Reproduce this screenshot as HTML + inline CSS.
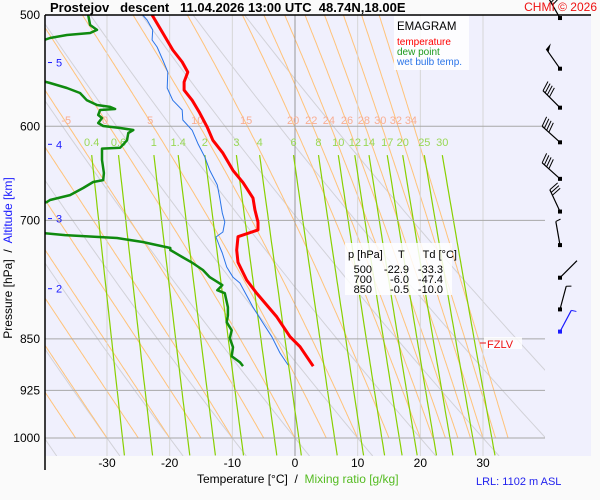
<!DOCTYPE html>
<html><head><meta charset="utf-8"><style>
html,body{margin:0;padding:0;background:#fafafa;}
svg{display:block;font-family:"Liberation Sans",sans-serif;}
text{white-space:pre;}
</style></head><body>
<svg id="chart" width="600" height="500" viewBox="0 0 600 500">
<defs><clipPath id="plotClip"><rect x="45" y="15" width="500" height="441"/></clipPath></defs>
<rect x="0" y="0" width="600" height="500" fill="#fafafa"/>
<rect x="45" y="15" width="546" height="441" fill="#f0f0fd"/>
<g id="gridLayer" clip-path="url(#plotClip)"></g>
<g id="labelLayer"></g>
<g id="seriesLayer" clip-path="url(#plotClip)"></g>
<g id="axisLayer"></g>
<g id="barbLayer"></g>

<line x1="45" y1="15" x2="591" y2="15" stroke="#000" stroke-width="1.5"/>
<line x1="45" y1="15" x2="45" y2="470" stroke="#000" stroke-width="1.5"/>
<text x="50" y="12" font-size="13" font-weight="bold">Prostejov   descent   11.04.2026 13:00 UTC  48.74N,18.00E</text>
<text x="597" y="11" font-size="12" fill="#ee1111" text-anchor="end">CHMI © 2026</text>

<g>
<rect x="394" y="16" width="75" height="54" fill="#ffffff" opacity="0.85"/>
<text x="397" y="30" font-size="11.5">EMAGRAM</text>
<text x="397" y="45" font-size="10" fill="#ff0000">temperature</text>
<text x="397" y="55" font-size="10" fill="#1e9a1e">dew point</text>
<text x="397" y="65" font-size="10" fill="#2a74e8">wet bulb temp.</text>
</g>

<g>
<rect x="345" y="243" width="107" height="52" fill="#ffffff" opacity="0.85"/>
<text x="348" y="258" font-size="11">p [hPa]     T      Td [°C]</text>
<g id="tableRows"></g>
</g>

<g>
<rect x="484" y="337" width="38" height="12" fill="#ffffff" opacity="0.8"/>
<line x1="480" y1="343" x2="486" y2="343" stroke="#ee1111" stroke-width="1"/>
<text x="487" y="348" font-size="11" fill="#ee1111">FZLV</text>
</g>

<text transform="translate(12,258) rotate(-90)" font-size="12" text-anchor="middle"><tspan fill="#000">Pressure [hPa]  /  </tspan><tspan fill="#1a1aff">Altitude [km]</tspan></text>
<text x="197" y="483" font-size="12">Temperature [°C]  /  <tspan fill="#55bb22">Mixing ratio [g/kg]</tspan></text>
<text x="476" y="485" font-size="11" fill="#2222ee">LRL: 1102 m ASL</text>
</svg>
<script>
// ---- data ----
const tempP = [500,515,529.5,540,549,558,565.5,575,587,601,614,627,645,658,675,688,702,711,719,735,750,772,789,820,847,861,889];
const tempT = [-22.8,-21.1,-19.5,-18.0,-17.1,-17.7,-17.7,-16.4,-15.2,-14.0,-13.1,-11.5,-9.9,-8.3,-6.7,-6.4,-5.9,-5.9,-9.1,-9.3,-9.1,-7.7,-6.1,-2.9,-0.8,0.8,2.9];
const dewP = [500,508.3,512.4,515,516.7,519.2,530,550,558.9,563.5,568.2,575,579.5,581.3,583.3,584.2,589,591.9,596.8,599.7,601.7,603.7,606.7,614,621.4,622.4,634.1,647.8,655.3,657.4,663.9,671.6,677.1,679.4,690,710,717.1,720.6,725.3,732.5,734.9,743.4,750.8,759.4,768.3,778.4,784.9,788.8,807.1,817.8,827.2,838.2,849.2,861.8,874.6,883.2,888.9];
const dewT = [-33.0,-32.7,-31.6,-32.7,-36.4,-39.1,-45,-45,-39.1,-36.4,-34.3,-33.2,-31.6,-29.5,-28.7,-31.1,-31.4,-30.8,-31.4,-30.6,-27.9,-25.8,-26.6,-26.8,-27.9,-30.8,-30.8,-30.5,-30.6,-32.2,-33.8,-35.9,-39.1,-39.6,-47,-47,-36.7,-28.4,-24.3,-19.9,-19.9,-18.0,-16.3,-14.7,-13.6,-11.6,-12.4,-11.2,-10.7,-10.7,-10.9,-10.1,-10.4,-9.9,-10.1,-8.8,-8.3];
const wbP = [500,504.1,512.4,520.9,526.9,538.3,549,563.5,575,584.2,593.9,604,617.3,631,645,660.6,675,691.6,701.9,713.5,719.4,731.3,738.5,755.6,768.3,775.7,807.1,828.2,847,870,887.3];
const wbT = [-24.3,-23.6,-22.7,-22.8,-22.0,-21.1,-20.3,-20.4,-19.5,-18.0,-17.9,-16.4,-15.5,-14.4,-13.6,-12.4,-12.0,-11.6,-11.2,-11.5,-12.6,-12.0,-11.6,-10.9,-9.9,-8.8,-6.7,-5.1,-3.7,-2.4,-1.1];
const pressureTicks = [500,600,700,850,925,1000];
const gridPressures = [600,700,850,925,1000];
const tempTicks = [-30,-20,-10,0,10,20,30];
const altitudeKm = [5,4,3,2];
const altitudeP = [540.5,618,698,783];
const mixRatios = [0.4,0.6,1,1.4,2,3,4,6,8,10,12,14,17,20,25,30];
const moistThetas = [-40,-35,-30,-25,-20,-15,-10,-5,0,5,10,15,20,22,24,26,28,30,32,34];
const moistLabels = ["-5","0","5","10","15","20","22","24","26","28","30","32","34"];
const moistLabelT = [-36.5,-30.3,-23.1,-15.6,-7.8,-0.3,2.6,5.4,8.3,11.0,13.6,16.1,18.5];
const dryThetas = [-60,-50,-40,-30,-20,-10,0,10,20,30,40,50];
const tableP = ["500","700","850"];
const tableT = ["-22.9","-6.0","-0.5"];
const tableTd = ["-33.3","-47.4","-10.0"];
const windP = [502.5,546,582,616,654,690,729,769,810,840];
const windDir = [330,325,315,312,312,335,350,45,15,28];
const windSpd = [40,50,40,40,40,30,5,3,5,5];

// ---- scales ----
const X0=295, XS=6.267, Y0=15, YS=423/Math.log(2);
function xOf(T){return X0+T*XS;}
function yOf(p){return Y0+Math.log(p/500)*YS;}
const NS='http://www.w3.org/2000/svg';
function mk(tag,attrs,parent){const e=document.createElementNS(NS,tag);for(const k in attrs)e.setAttribute(k,attrs[k]);parent.appendChild(e);return e;}
const grid=document.getElementById('gridLayer');
const labels=document.getElementById('labelLayer');
const series=document.getElementById('seriesLayer');
const axis=document.getElementById('axisLayer');
const barbs=document.getElementById('barbLayer');

function es(Tc){return 6.112*Math.exp(17.67*Tc/(Tc+243.5));}

// dry adiabats (grey)
dryThetas.forEach(th=>{
  const pts=[];
  for(let p=1030;p>=500;p-=10){const T=(th+273.15)*Math.pow(p/1000,0.2857)-273.15;pts.push(xOf(T).toFixed(1)+','+yOf(p).toFixed(1));}
  const el=mk('polyline',{points:pts.join(' '),fill:'none',stroke:'#d2d2d8','stroke-width':1},grid);
  
  
});
// moist adiabats (orange)
moistThetas.forEach(th=>{
  let T=th+273.15;const pts=[];
  for(let p=1000;p>=500;p-=2){
    pts.push(xOf(T-273.15).toFixed(1)+','+yOf(p).toFixed(1));
    const e=es(T-273.15),rs=0.622*e/(p-e);
    const lapse=((287*T+2.5e6*rs)/p)/(1005+(2.5e6*2.5e6*rs*0.622)/(287*T*T));
    T-=lapse*2;
  }
  const el=mk('polyline',{points:pts.join(' '),fill:'none',stroke:'#ffc37a','stroke-width':1},grid);
  
  
});
// vertical temp grid
tempTicks.forEach(t=>{
  const el=mk('line',{x1:xOf(t),y1:15,x2:xOf(t),y2:456,stroke:t===0?'#999':'#d6d6d6','stroke-width':1},grid);
  
  
});
// mixing ratio lines
function tdOfW(w,p){const e=w*p/(622+w),l=Math.log(e/6.112);return 243.5*l/(17.67-l);}
mixRatios.forEach(w=>{
  const pts=[];
  for(let p=629;p<=1032;p+=8){pts.push(xOf(tdOfW(w,p)).toFixed(1)+','+yOf(p).toFixed(1));}
  const el=mk('polyline',{points:pts.join(' '),fill:'none',stroke:'#88d000','stroke-width':1.2},grid);
  
  
  const t=mk('text',{x:xOf(tdOfW(w,629)),y:146,'font-size':11,fill:'#99d855','text-anchor':'middle'},labels);
  t.textContent=String(w);
  
  
});
// horizontal pressure grid
gridPressures.forEach(p=>{
  const el=mk('line',{x1:45,y1:yOf(p),x2:545,y2:yOf(p),stroke:'#a8a8a8','stroke-width':1},grid);
  
  
});
// moist adiabat labels
moistLabels.forEach((s,i)=>{
  const t=mk('text',{x:xOf(moistLabelT[i]),y:124,'font-size':11,fill:'#f8ae92','text-anchor':'middle'},labels);
  t.textContent=s;
  
  
});
// series
function line(P,T,color,w,name){
  const pts=P.map((p,i)=>xOf(T[i]).toFixed(1)+','+yOf(p).toFixed(1)).join(' ');
  const el=mk('polyline',{points:pts,fill:'none',stroke:color,'stroke-width':w,'stroke-linejoin':'round'},series);
  
  
}
line(wbP,wbT,'#2a74e8',1,'wet-bulb-line');
line(dewP,dewT,'#0f8a0f',2.5,'dew-point-line');
line(tempP,tempT,'#ff0000',3,'temperature-line');
// axes
pressureTicks.forEach(p=>{
  const t=mk('text',{x:40,y:yOf(p)+4,'font-size':12,'text-anchor':'end'},axis);
  t.textContent=String(p);
  
  
});
tempTicks.forEach(v=>{
  const t=mk('text',{x:xOf(v),y:467,'font-size':12,'text-anchor':'middle'},axis);
  t.textContent=String(v);
  
  
});
altitudeKm.forEach((k,i)=>{
  const y=yOf(altitudeP[i]);
  const l=mk('line',{x1:48,y1:y,x2:52,y2:y,stroke:'#1a1aff','stroke-width':1},axis);
  
  
  const t=mk('text',{x:56,y:y+4,'font-size':11,fill:'#1a1aff'},axis);
  t.textContent=String(k);
  
  
});
// table rows
const tr=document.getElementById('tableRows');
tableP.forEach((p,i)=>{
  const y=273+i*10;
  [[372,p],[409,tableT[i]],[443,tableTd[i]]].forEach(([x,s])=>{
    const t=mk('text',{x:x,y:y,'font-size':11,'text-anchor':'end'},tr);
    t.textContent=s;
    
    
  });
});
// wind barbs
windP.forEach((p,i)=>{
  const cx=560,cy=yOf(p),d=windDir[i]*Math.PI/180,L=24;
  const ux=Math.sin(d),uy=-Math.cos(d);
  const px=-uy,py=ux;
  const col=i===windP.length-1?'#1a1aff':'#000';
  const g=mk('g',{},barbs);
  
  
  const tx=cx+ux*L,ty=cy+uy*L;
  mk('line',{x1:cx,y1:cy,x2:tx,y2:ty,stroke:col,'stroke-width':1.2},g);
  mk('rect',{x:cx-2,y:cy-2,width:4,height:4,fill:col},g);
  let s=windSpd[i],pos=0;
  if(s>=50){mk('polygon',{points:`${tx},${ty} ${tx+px*7+ux*2},${ty+py*7+uy*2} ${tx-ux*4},${ty-uy*4}`,fill:col},g);s-=50;pos=6;}
  while(s>=10){const bx=tx-ux*pos,by=ty-uy*pos;mk('line',{x1:bx,y1:by,x2:bx+px*10+ux*3,y2:by+py*10+uy*3,stroke:col,'stroke-width':1},g);s-=10;pos+=3;}
  if(s>=5){const bx=tx-ux*pos,by=ty-uy*pos;mk('line',{x1:bx,y1:by,x2:bx+px*5+ux*1.5,y2:by+py*5+uy*1.5,stroke:col,'stroke-width':1},g);}
});
</script>
</body></html>
